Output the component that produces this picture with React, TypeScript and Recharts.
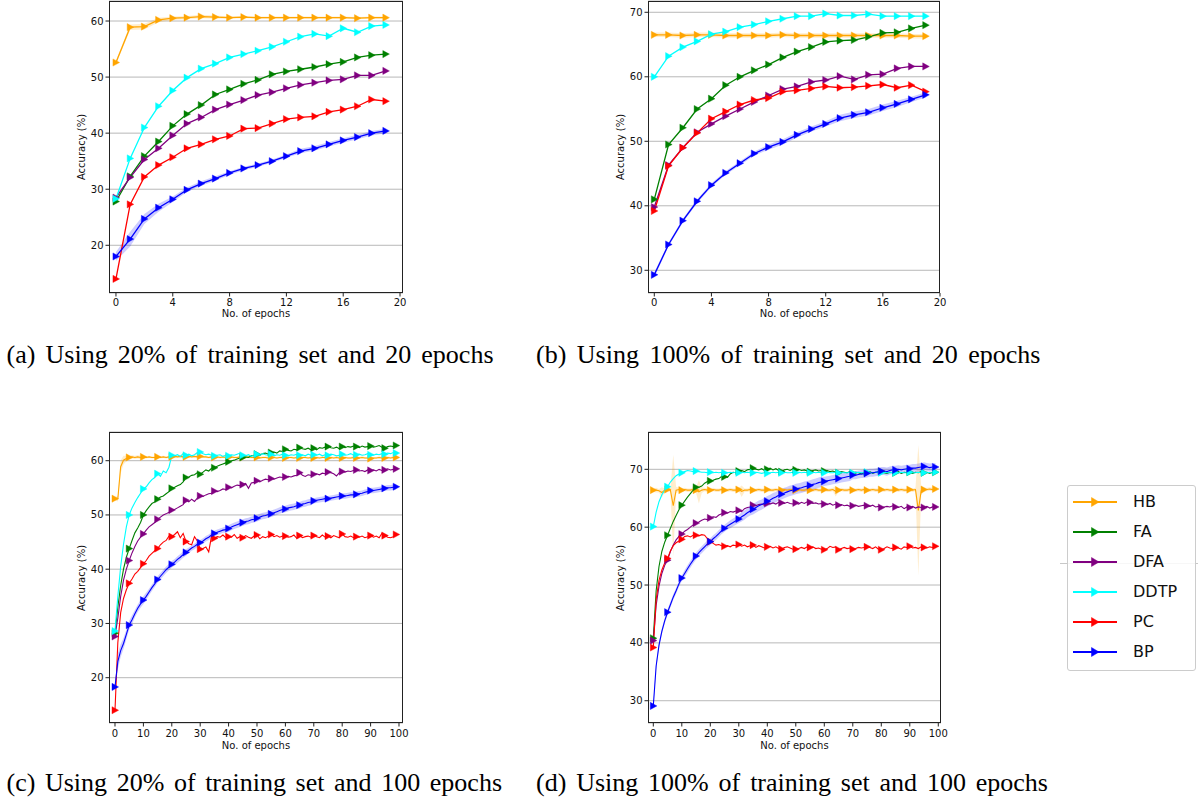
import React from 'react';
import { ComposedChart, Line, Area, XAxis, YAxis, CartesianGrid } from 'recharts';

// ---------- categories ----------
const SERIES_NAMES = ['HB', 'FA', 'DFA', 'DDTP', 'PC', 'BP'];
const EPOCH_TICKS_20 = [0, 4, 8, 12, 16, 20];
const EPOCH_TICKS_100 = [0, 10, 20, 30, 40, 50, 60, 70, 80, 90, 100];
const ACC_TICKS_A = [20, 30, 40, 50, 60];
const ACC_TICKS_B = [30, 40, 50, 60, 70];
const ACC_TICKS_C = [20, 30, 40, 50, 60];
const ACC_TICKS_D = [30, 40, 50, 60, 70];
const CAPTIONS = [
  '(a) Using 20% of training set and 20 epochs',
  '(b) Using 100% of training set and 20 epochs',
  '(c) Using 20% of training set and 100 epochs',
  '(d) Using 100% of training set and 100 epochs',
];

// ---------- (a) 20% / 20 epochs ----------
const HB_A = [52.6, 58.9, 59.0, 60.2, 60.5, 60.6, 60.8, 60.7, 60.6, 60.7, 60.6, 60.6, 60.6, 60.6, 60.6, 60.6, 60.6, 60.5, 60.6, 60.6];
const FA_A = [27.8, 32.3, 35.9, 38.5, 41.3, 43.4, 45.0, 46.9, 47.8, 48.8, 49.5, 50.5, 51.0, 51.4, 51.8, 52.3, 52.7, 53.5, 53.9, 54.1];
const DFA_A = [28.5, 32.1, 35.3, 37.3, 39.6, 41.7, 42.8, 44.2, 45.1, 45.9, 46.8, 47.3, 48.0, 48.6, 49.0, 49.4, 49.6, 50.3, 50.3, 51.1];
const DDTP_A = [28.3, 35.5, 41.0, 44.8, 47.6, 49.9, 51.5, 52.4, 53.5, 54.1, 54.7, 55.4, 56.3, 57.2, 57.7, 57.3, 58.7, 58.0, 59.1, 59.3];
const PC_A = [14.0, 27.3, 32.2, 34.3, 35.7, 37.3, 38.0, 38.9, 39.5, 40.8, 40.9, 41.7, 42.5, 42.8, 43.0, 43.8, 44.2, 44.8, 46.0, 45.7];
const BP_A = [18.0, 21.1, 24.7, 26.7, 28.2, 29.9, 31.0, 31.9, 32.9, 33.7, 34.3, 35.0, 35.9, 36.8, 37.3, 38.0, 38.7, 39.3, 40.0, 40.4];
const HB_STD_A = [0.3, 0.5, 0.5, 0.4, 0.3, 0.3, 0.3, 0.3, 0.2, 0.2, 0.2, 0.2, 0.2, 0.2, 0.2, 0.2, 0.2, 0.2, 0.2, 0.2];
const BP_STD_A = [0.8, 1.3, 0.9, 0.7, 0.5, 0.4, 0.4, 0.4, 0.3, 0.3, 0.3, 0.3, 0.3, 0.4, 0.4, 0.4, 0.4, 0.4, 0.4, 0.4];

// ---------- (b) 100% / 20 epochs ----------
const HB_B = [66.5, 66.5, 66.4, 66.5, 66.5, 66.4, 66.4, 66.4, 66.4, 66.5, 66.4, 66.4, 66.4, 66.4, 66.4, 66.4, 66.4, 66.4, 66.3, 66.3];
const FA_B = [41.0, 49.5, 52.1, 55.0, 56.6, 58.7, 60.0, 61.0, 61.9, 63.0, 63.9, 64.6, 65.4, 65.6, 65.7, 66.2, 66.8, 66.9, 67.5, 68.0];
const DFA_B = [39.8, 46.3, 49.0, 51.4, 52.7, 53.9, 55.0, 56.1, 57.1, 58.1, 58.5, 59.2, 59.5, 60.1, 59.6, 60.3, 60.4, 61.3, 61.6, 61.6];
const DDTP_B = [60.0, 63.2, 64.6, 65.5, 66.6, 67.0, 67.7, 68.1, 68.6, 69.0, 69.4, 69.4, 69.8, 69.5, 69.5, 69.7, 69.4, 69.4, 69.4, 69.4];
const PC_B = [39.2, 46.2, 49.0, 51.3, 53.5, 54.6, 55.7, 56.4, 56.7, 57.7, 57.9, 58.2, 58.5, 58.3, 58.4, 58.6, 58.8, 58.3, 58.7, 57.7];
const BP_B = [29.3, 34.0, 37.7, 40.7, 43.2, 45.1, 46.6, 48.1, 49.1, 49.9, 51.0, 51.9, 52.7, 53.6, 54.1, 54.5, 55.2, 55.8, 56.5, 57.2];
const HB_STD_B = [0.35, 0.35, 0.35, 0.35, 0.35, 0.35, 0.35, 0.35, 0.35, 0.35, 0.35, 0.35, 0.35, 0.35, 0.35, 0.35, 0.35, 0.35, 0.35, 0.35];
const BP_STD_B = [0.4, 0.3, 0.3, 0.3, 0.3, 0.3, 0.3, 0.3, 0.4, 0.4, 0.4, 0.4, 0.4, 0.5, 0.5, 0.5, 0.5, 0.5, 0.4, 0.4];

// ---------- (c) 20% / 100 epochs ----------
const HB_C = [
  53.0, 53.0, 58.9, 60.1, 60.4, 60.6, 60.7, 60.6, 60.7, 60.6,
  60.7, 60.6, 60.7, 60.6, 60.6, 60.7, 60.6, 60.7, 60.6, 60.7,
  60.7, 60.8, 60.7, 60.8, 60.7, 60.7, 60.8, 60.7, 60.8, 60.7,
  60.8, 60.7, 60.7, 60.6, 60.7, 60.6, 60.7, 60.6, 60.7, 60.6,
  60.6, 60.7, 60.6, 60.6, 60.7, 60.6, 60.6, 60.7, 60.6, 60.6,
  60.6, 60.5, 60.6, 60.6, 60.5, 60.6, 60.6, 60.5, 60.6, 60.6,
  60.5, 60.6, 60.6, 60.5, 60.6, 60.5, 60.6, 60.6, 60.5, 60.6,
  60.5, 60.6, 60.5, 60.6, 60.6, 60.5, 60.6, 60.5, 60.6, 60.5,
  60.5, 60.6, 60.5, 60.5, 60.6, 60.5, 60.5, 60.6, 60.5, 60.5,
  60.4, 60.5, 60.5, 60.6, 60.5, 60.5, 60.6, 60.5, 60.6, 60.6,
];
const FA_C = [
  28.2, 33.0, 37.0, 40.0, 42.2, 43.8, 45.3, 46.7, 47.6, 48.6,
  50.0, 50.8, 51.5, 52.1, 52.4, 52.9, 53.3, 53.5, 53.9, 54.3,
  54.9, 55.1, 55.4, 55.6, 56.1, 56.9, 57.0, 57.3, 57.4, 57.8,
  57.5, 57.9, 58.3, 58.1, 58.6, 58.7, 59.0, 59.2, 59.4, 59.6,
  59.8, 60.0, 60.1, 60.3, 60.5, 60.6, 60.7, 60.6, 60.9, 61.0,
  61.2, 61.0, 61.3, 61.4, 61.2, 61.5, 61.6, 61.4, 61.8, 61.7,
  62.1, 61.9, 61.8, 62.1, 62.0, 62.4, 62.2, 62.1, 62.3, 62.0,
  62.3, 62.0, 62.4, 62.3, 62.5, 62.6, 62.4, 62.3, 62.5, 62.2,
  62.6, 62.4, 62.6, 62.5, 62.7, 62.6, 62.4, 62.7, 62.5, 62.6,
  62.7, 62.5, 62.6, 62.8, 62.5, 62.3, 62.6, 62.7, 62.6, 62.8,
];
const DFA_C = [
  27.6, 31.0, 35.0, 38.0, 40.0, 41.6, 43.0, 44.2, 45.2, 45.9,
  46.5, 47.2, 47.8, 48.2, 48.6, 49.2, 49.6, 50.0, 50.2, 50.5,
  50.9, 51.0, 51.3, 51.6, 51.9, 52.7, 52.4, 52.9, 52.5, 53.1,
  53.5, 53.4, 53.7, 53.9, 54.0, 54.4, 54.3, 54.5, 54.8, 54.7,
  55.1, 55.0, 55.3, 55.5, 55.4, 55.6, 55.8, 54.9, 55.9, 56.0,
  56.3, 56.1, 56.4, 56.6, 56.5, 56.7, 56.6, 56.8, 57.0, 56.9,
  57.0, 57.1, 57.0, 57.2, 57.3, 57.8, 57.3, 57.1, 57.4, 57.3,
  57.5, 57.6, 57.4, 57.7, 57.6, 57.9, 57.8, 57.6, 57.2, 57.8,
  58.0, 57.9, 58.1, 58.0, 58.2, 58.3, 58.1, 58.2, 58.0, 58.3,
  58.2, 58.3, 58.1, 58.4, 58.2, 58.3, 58.5, 58.3, 58.4, 58.5,
];
const DDTP_C = [
  28.6, 35.0, 40.5, 44.6, 47.8, 50.0, 51.3, 52.3, 53.2, 54.0,
  54.8, 55.2, 55.9, 56.5, 56.9, 57.6, 57.1, 58.1, 57.8, 58.8,
  61.0, 60.9, 61.1, 60.8, 61.3, 61.0, 61.2, 60.9, 61.1, 61.5,
  61.6, 61.3, 61.1, 61.2, 61.0, 60.9, 61.0, 61.1, 60.8, 61.0,
  60.9, 61.1, 61.0, 61.2, 61.4, 61.0, 60.9, 61.1, 60.8, 61.0,
  61.2, 61.0, 61.3, 61.1, 61.0, 61.2, 60.9, 61.1, 61.0, 61.2,
  61.0, 60.9, 61.1, 61.0, 61.2, 61.0, 61.1, 60.9, 61.2, 61.0,
  61.1, 61.0, 61.2, 60.9, 61.1, 61.0, 61.2, 61.1, 60.9, 61.0,
  61.2, 61.0, 61.1, 61.3, 61.0, 61.1, 61.2, 61.0, 61.1, 61.3,
  61.1, 61.0, 61.2, 61.1, 61.3, 61.2, 61.4, 61.3, 61.5, 61.4,
];
const PC_C = [
  14.0, 26.5, 32.0, 34.6, 36.2, 37.4, 38.2, 39.1, 39.6, 40.3,
  41.0, 41.6, 42.4, 42.9, 43.4, 43.8, 44.5, 45.0, 45.3, 46.1,
  46.0, 46.4, 46.9, 45.8, 46.6, 45.1, 44.7, 44.5, 46.0, 45.2,
  43.7, 43.8, 44.1, 43.2, 46.1, 45.7, 46.0, 45.9, 46.3, 45.8,
  46.0, 45.9, 46.4, 45.7, 46.0, 45.8, 46.2, 45.9, 45.7, 46.1,
  46.3, 45.6, 46.0, 45.8, 46.1, 46.4, 46.0, 46.2, 45.9, 46.1,
  46.1, 45.9, 46.0, 46.3, 45.7, 46.2, 45.8, 46.0, 46.1, 45.9,
  46.2, 46.0, 45.8, 46.3, 45.9, 46.1, 45.8, 46.2, 46.0, 45.8,
  46.5, 46.0, 45.9, 46.1, 45.8, 46.0, 45.9, 46.1, 45.8, 46.0,
  46.2, 45.9, 46.1, 45.8, 46.6, 46.2, 45.9, 45.8, 46.0, 46.4,
];
const BP_C = [
  18.3, 23.0, 25.0, 26.3, 28.0, 29.7, 30.7, 31.8, 32.8, 33.6,
  34.3, 35.0, 35.8, 36.6, 37.3, 38.1, 38.7, 39.3, 39.9, 40.4,
  40.9, 41.3, 41.8, 42.2, 42.7, 43.1, 43.5, 43.9, 44.2, 44.6,
  44.9, 45.2, 45.6, 45.9, 46.3, 46.6, 46.8, 47.0, 47.2, 47.3,
  47.5, 47.8, 48.0, 48.2, 48.4, 48.6, 48.8, 48.9, 49.1, 49.2,
  49.4, 49.6, 49.8, 49.9, 50.1, 50.2, 50.4, 50.6, 50.8, 51.0,
  51.1, 51.3, 51.4, 51.5, 51.7, 51.8, 52.0, 52.1, 52.3, 52.4,
  52.6, 52.7, 52.8, 52.9, 53.0, 53.0, 53.1, 53.2, 53.3, 53.4,
  53.5, 53.5, 53.6, 53.7, 53.7, 53.8, 53.9, 54.0, 54.2, 54.3,
  54.5, 54.5, 54.6, 54.7, 54.8, 54.9, 55.0, 55.0, 55.1, 55.2,
];
const HB_STD_C = [
  0.3, 0.5, 1.2, 0.8, 0.5, 0.3, 0.3, 0.3, 0.3, 0.3,
  0.2, 0.2, 0.2, 0.2, 0.2, 0.2, 0.2, 0.2, 0.2, 0.2,
  0.2, 0.2, 0.2, 0.2, 0.2, 0.2, 0.2, 0.2, 0.2, 0.2,
  0.2, 0.2, 0.2, 0.2, 0.2, 0.2, 0.2, 0.2, 0.2, 0.2,
  0.2, 0.2, 0.2, 0.2, 0.2, 0.2, 0.2, 0.2, 0.2, 0.2,
  0.2, 0.2, 0.2, 0.2, 0.2, 0.2, 0.2, 0.2, 0.2, 0.2,
  0.2, 0.2, 0.2, 0.2, 0.2, 0.2, 0.2, 0.2, 0.2, 0.2,
  0.2, 0.2, 0.2, 0.2, 0.2, 0.2, 0.2, 0.2, 0.2, 0.2,
  0.2, 0.2, 0.2, 0.2, 0.2, 0.2, 0.2, 0.2, 0.2, 0.2,
  0.2, 0.2, 0.2, 0.2, 0.2, 0.2, 0.2, 0.2, 0.2, 0.2,
];
const BP_STD_C = [
  0.6, 1.5, 1.2, 1.0, 0.9, 0.8, 0.8, 0.7, 0.7, 0.7,
  0.7, 0.7, 0.6, 0.6, 0.6, 0.6, 0.6, 0.6, 0.6, 0.6,
  0.6, 0.6, 0.6, 0.6, 0.6, 0.6, 0.5, 0.5, 0.5, 0.5,
  0.5, 0.5, 0.5, 0.5, 0.5, 0.5, 0.5, 0.5, 0.5, 0.6,
  0.6, 0.6, 0.6, 0.6, 0.6, 0.6, 0.6, 0.6, 0.6, 0.6,
  0.6, 0.6, 0.6, 0.6, 0.6, 0.6, 0.6, 0.6, 0.6, 0.6,
  0.6, 0.6, 0.6, 0.6, 0.6, 0.6, 0.6, 0.6, 0.6, 0.6,
  0.5, 0.5, 0.5, 0.5, 0.5, 0.5, 0.5, 0.5, 0.5, 0.5,
  0.5, 0.5, 0.5, 0.5, 0.5, 0.5, 0.5, 0.5, 0.5, 0.5,
  0.5, 0.5, 0.5, 0.5, 0.5, 0.5, 0.5, 0.5, 0.5, 0.5,
];

// ---------- (d) 100% / 100 epochs ----------
const HB_D = [
  66.4, 66.4, 66.3, 66.0, 66.4, 66.5, 66.4, 63.7, 66.4, 66.5,
  66.4, 66.5, 66.4, 66.4, 66.5, 66.4, 66.1, 66.4, 66.5, 66.4,
  66.4, 66.5, 66.4, 66.4, 66.5, 66.4, 66.4, 66.5, 66.4, 66.4,
  66.5, 66.2, 66.4, 66.4, 66.5, 66.4, 66.4, 66.5, 66.4, 66.4,
  66.5, 66.4, 66.4, 66.5, 66.4, 66.4, 66.5, 66.4, 66.5, 66.4,
  66.4, 66.5, 66.4, 66.4, 66.5, 66.4, 66.4, 66.5, 66.4, 66.4,
  66.5, 66.4, 66.4, 66.5, 66.2, 66.4, 66.5, 66.4, 66.4, 66.5,
  66.4, 66.4, 66.5, 66.4, 66.5, 66.4, 66.4, 66.5, 66.4, 66.4,
  66.5, 66.4, 66.5, 66.4, 66.4, 66.5, 66.4, 66.5, 66.4, 66.4,
  66.5, 66.4, 66.5, 62.9, 66.3, 66.5, 66.5, 66.6, 66.5, 66.6,
];
const FA_D = [
  40.8, 49.0, 53.2, 55.8, 57.4, 58.6, 59.8, 61.0, 62.0, 63.0,
  63.8, 64.5, 65.2, 65.8, 66.4, 66.9, 66.9, 67.1, 67.6, 67.9,
  68.0, 68.1, 68.3, 68.4, 68.8, 68.7, 68.6, 69.2, 69.5, 69.4,
  69.7, 69.8, 69.6, 69.9, 70.0, 70.2, 70.0, 69.9, 70.1, 69.8,
  70.0, 70.2, 69.9, 70.1, 69.8, 69.6, 69.9, 70.0, 69.8, 70.1,
  69.9, 70.0, 69.8, 69.9, 69.7, 69.6, 69.8, 69.9, 69.7, 69.8,
  69.7, 69.8, 69.6, 69.7, 69.5, 69.4, 69.6, 69.5, 69.4, 69.6,
  69.3, 69.5, 69.4, 69.2, 69.4, 69.4, 69.6, 69.3, 69.5, 69.4,
  69.6, 69.4, 69.3, 69.5, 69.4, 69.4, 69.6, 69.3, 69.5, 69.4,
  69.5, 69.3, 69.5, 69.4, 69.6, 69.4, 69.5, 69.3, 69.5, 69.5,
];
const DFA_D = [
  40.4, 46.5, 49.8, 52.0, 53.4, 54.3, 55.8, 56.9, 57.8, 58.4,
  58.8, 59.3, 59.6, 60.0, 60.4, 60.7, 60.9, 61.2, 61.4, 61.3,
  61.6, 61.8, 61.7, 62.1, 62.3, 62.5, 62.4, 62.7, 62.6, 62.8,
  62.9, 62.7, 63.2, 63.4, 63.5, 63.8, 63.7, 63.9, 64.0, 63.8,
  64.1, 64.0, 64.2, 64.0, 64.3, 64.2, 64.1, 64.3, 64.1, 64.0,
  64.2, 64.0, 64.3, 64.1, 64.4, 64.3, 64.1, 64.2, 64.0, 64.1,
  64.0, 63.9, 64.1, 63.8, 64.0, 63.8, 63.9, 63.7, 63.8, 63.6,
  63.7, 63.8, 63.6, 63.7, 63.8, 63.7, 63.6, 63.8, 63.5, 63.6,
  63.4, 63.5, 63.6, 63.5, 63.7, 63.5, 63.4, 63.6, 63.2, 63.5,
  63.4, 63.6, 63.3, 63.5, 63.4, 63.4, 63.6, 63.3, 63.5, 63.5,
];
const DDTP_D = [
  60.1, 62.6, 64.4, 65.6, 66.4, 67.0, 67.8, 68.4, 68.9, 69.2,
  69.4, 69.6, 69.8, 69.7, 69.6, 69.7, 69.6, 69.5, 69.5, 69.4,
  69.5, 69.4, 69.5, 69.4, 69.5, 69.4, 69.4, 69.5, 69.4, 69.5,
  69.4, 69.5, 69.4, 69.5, 69.4, 69.4, 69.5, 69.4, 69.3, 69.4,
  69.3, 69.4, 69.5, 69.4, 69.5, 69.4, 69.5, 69.4, 69.4, 69.5,
  69.4, 69.5, 69.4, 69.5, 69.4, 69.4, 69.5, 69.4, 69.5, 69.4,
  69.4, 69.5, 69.4, 69.4, 69.5, 69.4, 69.5, 69.4, 69.4, 69.5,
  69.4, 69.4, 69.5, 69.4, 69.4, 69.5, 69.4, 69.4, 69.5, 69.4,
  69.4, 69.5, 69.4, 69.4, 69.5, 69.4, 69.4, 69.5, 69.4, 69.4,
  69.5, 69.4, 69.4, 69.5, 69.4, 69.4, 69.5, 69.4, 69.4, 69.5,
];
const PC_D = [
  39.2, 47.5, 50.8, 52.6, 53.8, 54.6, 55.9, 56.8, 57.3, 57.6,
  57.9, 58.4, 58.5, 58.3, 58.6, 58.6, 58.5, 58.7, 58.6, 58.0,
  57.5, 57.2, 56.9, 57.0, 56.8, 56.7, 56.8, 56.6, 56.9, 56.8,
  57.0, 56.7, 56.9, 56.6, 56.8, 56.9, 56.5, 56.8, 56.6, 56.4,
  56.6, 56.7, 56.4, 56.6, 56.3, 56.2, 56.5, 56.6, 56.4, 56.2,
  56.2, 56.3, 56.5, 56.3, 56.6, 56.5, 56.6, 56.3, 56.4, 56.2,
  56.1, 56.3, 56.7, 56.5, 56.6, 56.1, 56.3, 56.5, 56.3, 56.4,
  56.2, 56.3, 56.5, 56.4, 56.5, 56.6, 56.5, 56.3, 56.6, 56.2,
  56.1, 56.3, 56.6, 56.4, 56.3, 56.5, 56.4, 56.2, 56.6, 56.5,
  56.7, 56.4, 56.5, 56.3, 56.6, 56.5, 56.4, 56.6, 56.5, 56.7,
];
const BP_D = [
  29.1, 36.0, 39.6, 42.0, 43.8, 45.3, 46.6, 47.9, 49.0, 50.2,
  51.2, 52.0, 52.8, 53.6, 54.3, 55.0, 55.6, 56.1, 56.6, 57.1,
  57.5, 58.0, 58.4, 58.9, 59.4, 59.8, 60.2, 60.5, 60.8, 61.1,
  61.4, 61.8, 62.1, 62.5, 62.8, 63.1, 63.4, 63.7, 63.9, 64.2,
  64.5, 64.7, 65.0, 65.2, 65.5, 65.7, 65.9, 66.1, 66.3, 66.4,
  66.6, 66.7, 66.8, 67.0, 67.1, 67.2, 67.4, 67.5, 67.7, 67.8,
  67.9, 68.0, 68.1, 68.2, 68.3, 68.4, 68.5, 68.6, 68.7, 68.8,
  69.0, 69.0, 69.1, 69.2, 69.2, 69.3, 69.4, 69.4, 69.5, 69.6,
  69.7, 69.7, 69.6, 69.8, 69.9, 69.9, 70.0, 69.9, 70.0, 70.1,
  70.1, 70.2, 70.2, 70.3, 70.4, 70.5, 70.4, 70.3, 70.4, 70.4,
];
const HB_STD_D = [
  0.3, 0.4, 0.3, 0.9, 0.3, 0.3, 0.3, 8.8, 0.6, 0.3,
  0.3, 0.3, 0.3, 0.3, 0.3, 0.5, 2.0, 0.5, 0.3, 0.3,
  0.3, 0.3, 0.3, 0.3, 0.3, 0.3, 0.3, 0.3, 0.3, 0.3,
  0.3, 1.0, 0.3, 0.3, 0.3, 0.3, 0.3, 0.3, 0.3, 0.3,
  0.3, 0.3, 0.3, 0.3, 0.3, 0.3, 0.3, 0.3, 0.3, 0.3,
  0.3, 0.3, 0.3, 0.3, 0.3, 0.3, 0.3, 0.3, 0.3, 0.3,
  0.3, 0.3, 0.3, 0.3, 0.9, 0.3, 0.3, 0.3, 0.3, 0.3,
  0.3, 0.3, 0.3, 0.3, 0.3, 0.3, 0.3, 0.3, 0.3, 0.3,
  0.3, 0.3, 0.3, 0.3, 0.3, 0.3, 0.3, 0.3, 0.3, 0.3,
  0.3, 0.3, 0.3, 11.3, 0.8, 0.3, 0.3, 0.3, 0.3, 0.3,
];
const BP_STD_D = [
  0.4, 0.5, 0.5, 0.5, 0.5, 0.5, 0.5, 0.5, 0.5, 0.5,
  0.5, 0.6, 0.6, 0.6, 0.6, 0.6, 0.6, 0.6, 0.6, 0.6,
  0.6, 0.6, 0.6, 0.6, 0.6, 0.6, 0.6, 0.7, 0.7, 0.7,
  0.7, 0.8, 0.8, 0.8, 0.8, 0.9, 0.9, 0.9, 0.9, 0.9,
  0.9, 0.9, 0.9, 0.9, 0.9, 0.9, 0.9, 0.9, 0.9, 0.9,
  0.9, 0.9, 0.9, 0.9, 0.9, 0.9, 0.9, 0.9, 0.9, 0.9,
  0.8, 0.8, 0.8, 0.8, 0.8, 0.8, 0.8, 0.8, 0.8, 0.8,
  0.7, 0.7, 0.7, 0.7, 0.7, 0.7, 0.7, 0.7, 0.7, 0.7,
  0.7, 0.7, 0.7, 0.7, 0.7, 0.7, 0.7, 0.7, 0.7, 0.7,
  0.7, 0.7, 0.7, 0.7, 0.7, 0.7, 0.7, 0.7, 0.7, 0.7,
];

const COLORS: Record<string, string> = {
  HB: '#ffa500', FA: '#008000', DFA: '#800080', DDTP: '#00ffff', PC: '#ff0000', BP: '#0000ff',
};

type Row = Record<string, any>;

function buildRows(series: Record<string, number[]>, stds: Record<string, number[]>): Row[] {
  const n = series.HB.length;
  const rows: Row[] = [];
  for (let i = 0; i < n; i++) {
    const r: Row = { epoch: i };
    for (const k of SERIES_NAMES) r[k] = series[k][i];
    for (const k of Object.keys(stds)) {
      const v = series[k][i];
      const s = stds[k][i];
      r[k + 'Band'] = [v - s, v + s];
    }
    rows.push(r);
  }
  return rows;
}

const ROWS_A = buildRows({ HB: HB_A, FA: FA_A, DFA: DFA_A, DDTP: DDTP_A, PC: PC_A, BP: BP_A }, { HB: HB_STD_A, BP: BP_STD_A });
const ROWS_B = buildRows({ HB: HB_B, FA: FA_B, DFA: DFA_B, DDTP: DDTP_B, PC: PC_B, BP: BP_B }, { HB: HB_STD_B, BP: BP_STD_B });
const ROWS_C = buildRows({ HB: HB_C, FA: FA_C, DFA: DFA_C, DDTP: DDTP_C, PC: PC_C, BP: BP_C }, { HB: HB_STD_C, BP: BP_STD_C });
const ROWS_D = buildRows({ HB: HB_D, FA: FA_D, DFA: DFA_D, DDTP: DDTP_D, PC: PC_D, BP: BP_D }, { HB: HB_STD_D, BP: BP_STD_D });

const FONT = '"DejaVu Sans", sans-serif';
const YW = 60;
const MT = 4;
const MR = 10;
const XH = 36;

type PanelProps = {
  L: number; R: number; T: number; B: number;
  xDomain: [number, number]; yDomain: [number, number];
  xTicks: number[]; yTicks: number[];
  rows: Row[]; every: number; lw: number; xLabelDy: number; tickMargin: number;
};

function makeDot(color: string, every: number, last: number) {
  return (props: any) => {
    const { cx, cy, index } = props;
    const key = `d-${index}`;
    if (cx == null || cy == null || !(index % every === 0 || index === last)) return <g key={key} />;
    return (
      <path key={key} d={`M${cx + 3.6},${cy}L${cx - 3},${cy - 3.6}L${cx - 3},${cy + 3.6}Z`} fill={color} stroke={color} strokeWidth={0.4} />
    );
  };
}

function Panel(p: PanelProps) {
  const w = p.R - p.L + YW + MR;
  const h = p.B - p.T + MT + XH;
  const last = p.rows.length - 1;
  const tickStyle = { fontSize: 10, fill: '#111', fontFamily: FONT };
  return (
    <>
      <div style={{ position: 'absolute', left: p.L - YW, top: p.T - MT, width: w, height: h, fontFamily: FONT }}>
        <ComposedChart width={w} height={h} data={p.rows} margin={{ top: MT, right: MR, left: 0, bottom: 0 }}>
          <CartesianGrid vertical={false} stroke="#b0b0b0" strokeWidth={0.9} />
          <XAxis dataKey="epoch" type="number" domain={p.xDomain} ticks={p.xTicks} allowDataOverflow interval={0}
            height={XH} tickSize={3.5} tickMargin={p.tickMargin} axisLine={false} tickLine={{ stroke: '#222' }} tick={tickStyle} />
          <YAxis type="number" domain={p.yDomain} ticks={p.yTicks} allowDataOverflow interval={0}
            width={YW} tickSize={3.5} tickMargin={2} axisLine={false} tickLine={{ stroke: '#222' }} tick={tickStyle} />
          {SERIES_NAMES.filter((k) => p.rows[0][k + 'Band']).map((k) => (
            <Area key={k + 'Band'} type="linear" dataKey={k + 'Band'} stroke="none" fill={COLORS[k]} fillOpacity={0.2}
              isAnimationActive={false} dot={false} activeDot={false} />
          ))}
          {SERIES_NAMES.map((k) => (
            <Line key={k} type="linear" dataKey={k} stroke={COLORS[k]} strokeWidth={p.lw}
              dot={makeDot(COLORS[k], p.every, last)} activeDot={false} isAnimationActive={false} />
          ))}
        </ComposedChart>
      </div>
      <div style={{ position: 'absolute', left: p.L, top: p.T, width: p.R - p.L, height: p.B - p.T, border: '1px solid #222', boxSizing: 'border-box', pointerEvents: 'none' }} />
      <div style={{ position: 'absolute', left: p.L - 26.6, top: (p.T + p.B) / 2, transform: 'translate(-50%, -50%) rotate(-90deg)', whiteSpace: 'nowrap', fontFamily: FONT, fontSize: 10, lineHeight: '10px', color: '#111' }}>
        Accuracy (%)
      </div>
      <div style={{ position: 'absolute', left: (p.L + p.R) / 2, top: p.B + p.xLabelDy, transform: 'translate(-50%, -50%)', whiteSpace: 'nowrap', fontFamily: FONT, fontSize: 10, lineHeight: '10px', color: '#111' }}>
        No. of epochs
      </div>
    </>
  );
}

function Caption({ text, left, right, top }: { text: string; left: number; right: number; top: number }) {
  return (
    <div style={{ position: 'absolute', left, top, width: right - left, fontFamily: '"Liberation Serif", "Times New Roman", serif', fontSize: 26, lineHeight: '26px', color: '#000', textAlign: 'justify', textAlignLast: 'justify' as any, height: 27, overflow: 'visible' }}>
      {text}
    </div>
  );
}

function LegendBox() {
  const rowsTop = [16, 46, 76, 106, 136, 166];
  return (
    <>
      <div style={{ position: 'absolute', left: 1060, top: 563, width: 138, height: 1, background: '#c8c8c8' }} />
      <div style={{ position: 'absolute', left: 1067, top: 485, width: 129, height: 186, border: '1px solid #cccccc', borderRadius: 3, background: 'rgba(255,255,255,0.85)', boxSizing: 'border-box' }}>
        {SERIES_NAMES.map((k, i) => (
          <div key={k} style={{ position: 'absolute', left: 0, top: rowsTop[i] - 10, height: 20, width: 127 }}>
            <svg width={56} height={20} style={{ position: 'absolute', left: 0, top: 0 }}>
              <line x1={5} y1={10} x2={49} y2={10} stroke={COLORS[k]} strokeWidth={2} />
              <path d="M31,10L23.5,5.5L23.5,14.5Z" fill={COLORS[k]} stroke={COLORS[k]} strokeWidth={0.5} />
            </svg>
            <span style={{ position: 'absolute', left: 65, top: 0, lineHeight: '20px', fontFamily: FONT, fontSize: 16, color: '#111', whiteSpace: 'nowrap' }}>{k}</span>
          </div>
        ))}
      </div>
    </>
  );
}

export default function App() {
  return (
    <div style={{ position: 'absolute', left: 0, top: 0, width: 1198, height: 805, background: '#fff', overflow: 'hidden' }}>
      <Panel L={109} R={403} T={1} B={293} xDomain={[-0.49, 20.21]} yDomain={[11.49, 63.57]} xTicks={EPOCH_TICKS_20} yTicks={ACC_TICKS_A}
        rows={ROWS_A} every={1} lw={1.3} xLabelDy={20.6} tickMargin={2} />
      <Panel L={648} R={940} T={1} B={293} xDomain={[-0.44, 20.0]} yDomain={[26.48, 71.75]} xTicks={EPOCH_TICKS_20} yTicks={ACC_TICKS_B}
        rows={ROWS_B} every={1} lw={1.3} xLabelDy={20.6} tickMargin={2} />
      <Panel L={109} R={403} T={432} B={723} xDomain={[-2.11, 101.41]} yDomain={[11.65, 65.29]} xTicks={EPOCH_TICKS_100} yTicks={ACC_TICKS_C}
        rows={ROWS_C} every={5} lw={1.1} xLabelDy={23} tickMargin={3.5} />
      <Panel L={648} R={941} T={432} B={723} xDomain={[-1.86, 100.95]} yDomain={[26.15, 76.45]} xTicks={EPOCH_TICKS_100} yTicks={ACC_TICKS_D}
        rows={ROWS_D} every={5} lw={1.1} xLabelDy={23} tickMargin={3.5} />
      <Caption text={CAPTIONS[0]} left={6.5} right={493.5} top={342.2} />
      <Caption text={CAPTIONS[1]} left={536} right={1040.5} top={342.2} />
      <Caption text={CAPTIONS[2]} left={6.5} right={502} top={770.2} />
      <Caption text={CAPTIONS[3]} left={536} right={1048} top={770.2} />
      <LegendBox />
    </div>
  );
}
